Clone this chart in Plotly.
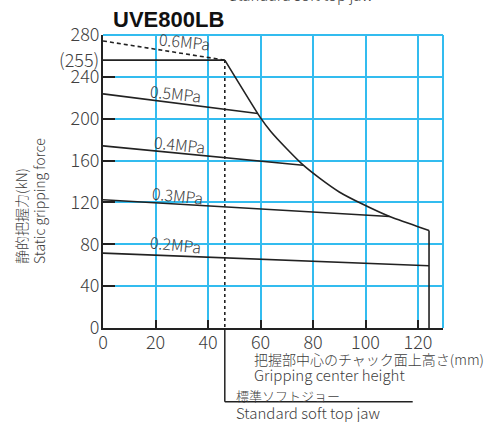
import plotly.graph_objects as go

# ---------------- data ----------------
x_ticks = [0, 20, 40, 60, 80, 100, 120]
y_ticks = [0, 40, 80, 120, 160, 200, 240, 280]

jaw_height = 46.4          # standard soft top jaw position (mm)
max_force = 256            # (255) kN plateau

envelope_x = [46.4, 59.7, 64.0, 69.9, 76.2, 82.5, 90.0, 99.0, 109.2, 120.0, 124.2]
envelope_y = [256, 202, 187.5, 171.5, 155.8, 143.2, 130.0, 118.2, 106.5, 96.8, 93.2]
limit_x = 124.2

p_labels = ["0.6MPa", "0.5MPa", "0.4MPa", "0.3MPa", "0.2MPa"]
p_x_start = [0, 0, 0, 0, 0]
p_x_end = [46.4, 59.0, 76.2, 109.2, 124.2]
p_y_start = [274.3, 223.7, 174.0, 122.5, 71.6]
p_y_end = [256.0, 205.0, 155.5, 106.5, 59.5]
p_label_x = [31.0, 27.8, 29.1, 28.2, 27.8]
p_label_y = [274.2, 224.6, 175.9, 127.1, 80.2]

# ---------------- style ----------------
BLUE = "#33bcef"
DARK = "#222222"
TXT = "#404040"
JFONT = "Noto Sans CJK JP"
WT = 300

L, R, T, B = 103, 59, 35, 94
W, H = 502, 422
PW, PH = W - L - R, H - T - B


def xp(px):
    return (px - L) / PW


def yp(py):
    return (H - B - py) / PH


fig = go.Figure()

# pressure lines
for i, lab in enumerate(p_labels):
    fig.add_trace(go.Scatter(
        x=[p_x_start[i], p_x_end[i]], y=[p_y_start[i], p_y_end[i]],
        mode="lines",
        line=dict(color=DARK, width=1.6, dash="4px,3px" if i == 0 else "solid"),
        hoverinfo="skip", showlegend=False))
    fig.add_annotation(x=p_label_x[i], y=p_label_y[i], xref="x", yref="y",
                       xanchor="center", yanchor="middle",
                       text=lab, showarrow=False, textangle=6,
                       font=dict(family=JFONT, size=16, color=TXT, weight=WT))

# plateau
fig.add_trace(go.Scatter(x=[0, jaw_height], y=[max_force, max_force], mode="lines",
                         line=dict(color=DARK, width=1.6), hoverinfo="skip", showlegend=False))
# envelope curve
fig.add_trace(go.Scatter(x=envelope_x, y=envelope_y, mode="lines",
                         line=dict(color=DARK, width=1.6, shape="spline", smoothing=0.4),
                         hoverinfo="skip", showlegend=False))
# vertical limit
fig.add_trace(go.Scatter(x=[limit_x, limit_x], y=[envelope_y[-1], 0], mode="lines",
                         line=dict(color=DARK, width=1.6), hoverinfo="skip", showlegend=False))
# dashed jaw line
fig.add_trace(go.Scatter(x=[jaw_height, jaw_height], y=[max_force, 0], mode="lines",
                         line=dict(color=DARK, width=1.6, dash="3px,3px"),
                         hoverinfo="skip", showlegend=False))

# boundary grid lines (top / right)
fig.add_shape(type="line", xref="paper", yref="paper", x0=0, x1=1, y0=1, y1=1,
              line=dict(color=BLUE, width=2), layer="below")
fig.add_shape(type="line", xref="paper", yref="paper", x0=1, x1=1, y0=0, y1=1,
              line=dict(color=BLUE, width=2), layer="below")

# bracket below axis
yb = yp(401.7)
fig.add_shape(type="line", xref="x", yref="paper", x0=jaw_height, x1=jaw_height, y0=0, y1=yb,
              line=dict(color=DARK, width=1.5))
fig.add_shape(type="line", xref="x", yref="paper", x0=jaw_height, x1=(412.7 - L) / 2.625, y0=yb, y1=yb,
              line=dict(color=DARK, width=1.5))


def note(px, py, text, size, xanchor="center", yanchor="middle", family=JFONT, color=TXT,
         weight=WT, **kw):
    fig.add_annotation(xref="paper", yref="paper", x=xp(px), y=yp(py), text=text,
                       xanchor=xanchor, yanchor=yanchor, showarrow=False,
                       font=dict(family=family, size=size, color=color, weight=weight), **kw)


note(168, 19.5, "<b>UVE800LB</b>", 22, family="Liberation Sans", color="#111", weight=700)
note(227, 7, "Standard soft top jaw", 15, xanchor="left", yanchor="bottom")
note(101, 59, "(255)", 18, xanchor="right")
note(30, 266, "静的把握力(kN)<br>Static gripping force", 14, yanchor="bottom",
     align="left", textangle=-90)
note(252, 359, "把握部中心のチャック面上高さ(mm)", 14, xanchor="left")
note(252, 374, "Gripping center height", 15, xanchor="left")
note(234, 395, "標準ソフトジョー", 13, xanchor="left")
note(234, 412, "Standard soft top jaw", 15, xanchor="left")

fig.update_layout(
    width=W, height=H, margin=dict(l=L, r=R, t=T, b=B, pad=0, autoexpand=False),
    paper_bgcolor="white", plot_bgcolor="white", showlegend=False,
    xaxis=dict(range=[0, PW / 2.625], tickvals=x_ticks, ticktext=[str(v) for v in x_ticks],
               showgrid=True, gridcolor=BLUE, gridwidth=2, zeroline=False, automargin=False,
               showline=True, linecolor=DARK, linewidth=2,
               ticks="inside", ticklen=8, tickwidth=2, tickcolor=DARK, ticklabelstandoff=-3,
               tickfont=dict(family=JFONT, size=18, color=TXT, weight=WT), fixedrange=True),
    yaxis=dict(range=[0, 280], tickvals=y_ticks, ticktext=[str(v) for v in y_ticks],
               showgrid=True, gridcolor=BLUE, gridwidth=2, zeroline=False, automargin=False,
               showline=True, linecolor=DARK, linewidth=2,
               ticks="inside", ticklen=12, tickwidth=2, tickcolor=DARK, ticklabelstandoff=-2,
               tickfont=dict(family=JFONT, size=18, color=TXT, weight=WT), fixedrange=True),
)

fig.write_html("out.html", config={"displayModeBar": False},
               post_script="document.body.style.margin='0';document.body.style.padding='0';"
                           "document.body.style.overflow='hidden';")
